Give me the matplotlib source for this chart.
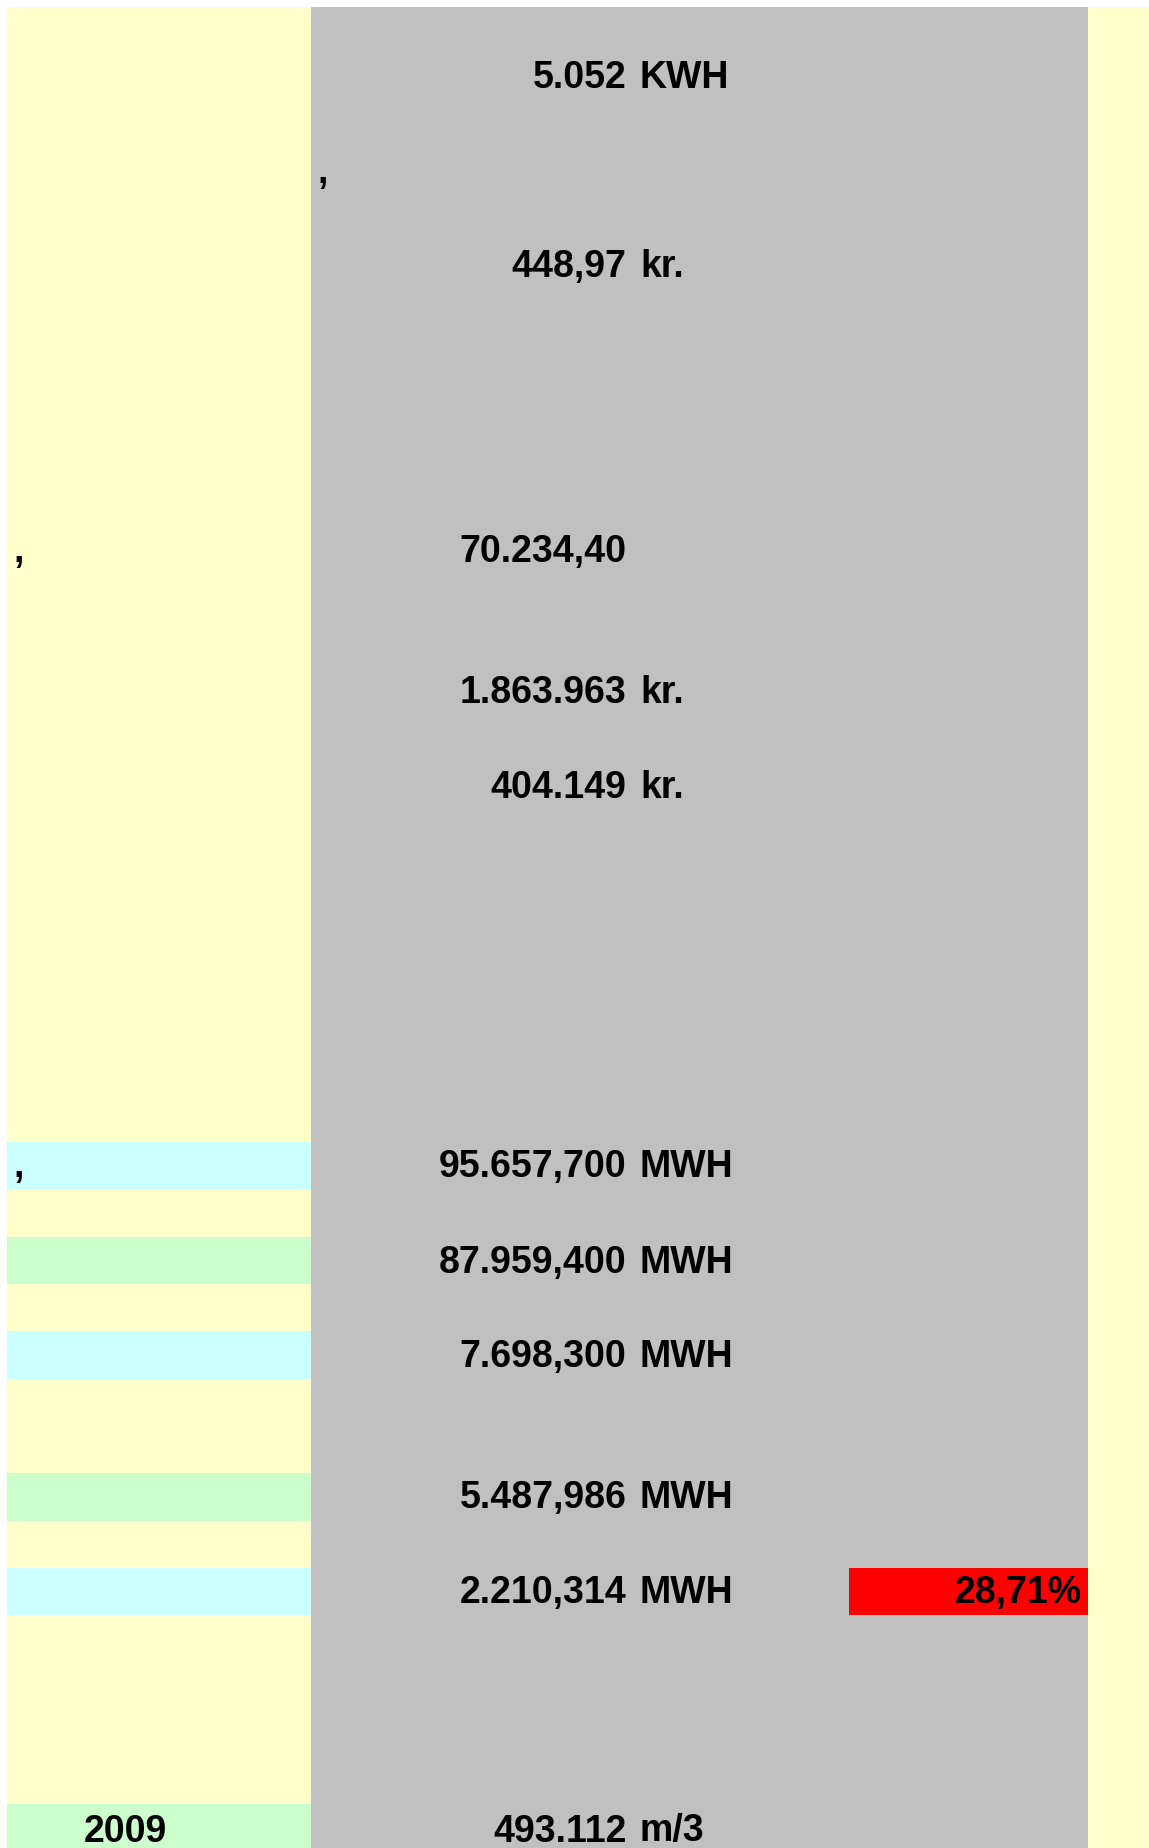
import matplotlib
matplotlib.use("Agg")
import matplotlib.pyplot as plt

# ---- data ----
values = ["5.052", "448,97", "70.234,40", "1.863.963", "404.149",
          "95.657,700", "87.959,400", "7.698,300", "5.487,986", "2.210,314",
          "493.112"]
units = ["KWH", "kr.", "", "kr.", "kr.", "MWH", "MWH", "MWH", "MWH", "MWH", "m/3"]
value_rows = [1, 5, 11, 14, 16, 24, 26, 28, 31, 33, 38]

band_rows = [24, 26, 28, 31, 33, 38]
band_kinds = ["cyan", "green", "cyan", "green", "cyan", "green"]

year_label = "2009"
year_row = 38
percent_label = "28,71%"
percent_row = 33
comma_rows_left = [11, 24]
comma_rows_mid = [3]

# ---- layout ----
W, H = 1149, 1848
TOP = 7.0
ROW_H = 47.3
X0, X_GRAY, X_RIGHT = 7, 311, 1088
X_NUM, X_UNIT = 626.5, 640
X_RED = 849
# measured text baselines (pixels from top) per row
BASELINES = {1: 87.5, 3: 183.0, 5: 277.0, 11: 561.8, 14: 702.8, 16: 797.8,
             24: 1177.3, 26: 1273.0, 28: 1366.7, 31: 1508.3, 33: 1603.0,
             38: 1841.5}

colors = {"yellow": "#FFFFCC", "gray": "#C0C0C0", "cyan": "#CCFFFF",
          "green": "#CCFFCC", "red": "#FF0000"}

def row_top(r):
    return TOP + ROW_H * r

fig = plt.figure(figsize=(W / 100, H / 100), dpi=100)
ax = fig.add_axes([0, 0, 1, 1])
ax.set_xlim(0, W)
ax.set_ylim(H, 0)
ax.axis("off")

# background columns
ax.barh(TOP, X_GRAY - X0, left=X0, height=H - TOP, align="edge",
        color=colors["yellow"], linewidth=0)
ax.barh(TOP, X_RIGHT - X_GRAY, left=X_GRAY, height=H - TOP, align="edge",
        color=colors["gray"], linewidth=0)
ax.barh(TOP, W - X_RIGHT, left=X_RIGHT, height=H - TOP, align="edge",
        color=colors["yellow"], linewidth=0)

# coloured bands in left column
for r, k in zip(band_rows, band_kinds):
    ax.barh(row_top(r), X_GRAY - X0, left=X0, height=ROW_H, align="edge",
            color=colors[k], linewidth=0)

# red percentage cell
ax.barh(row_top(percent_row), X_RIGHT - X_RED, left=X_RED, height=ROW_H,
        align="edge", color=colors["red"], linewidth=0)

font = dict(family=["Liberation Sans", "DejaVu Sans"], fontweight="bold",
            fontsize=27, color="black", va="baseline")

for v, u, r in zip(values, units, value_rows):
    ax.text(X_NUM, BASELINES[r], v, ha="right", **font)
    if u:
        ax.text(X_UNIT, BASELINES[r], u, ha="left", **font)

ax.text(1082, BASELINES[percent_row], percent_label, ha="right", **font)
ax.text(125, BASELINES[year_row], year_label, ha="center", **font)

for r in comma_rows_left:
    ax.text(13, BASELINES[r], ",", ha="left", **font)
for r in comma_rows_mid:
    ax.text(317, BASELINES[r], ",", ha="left", **font)

fig.savefig("out.png", dpi=100, facecolor="white")
